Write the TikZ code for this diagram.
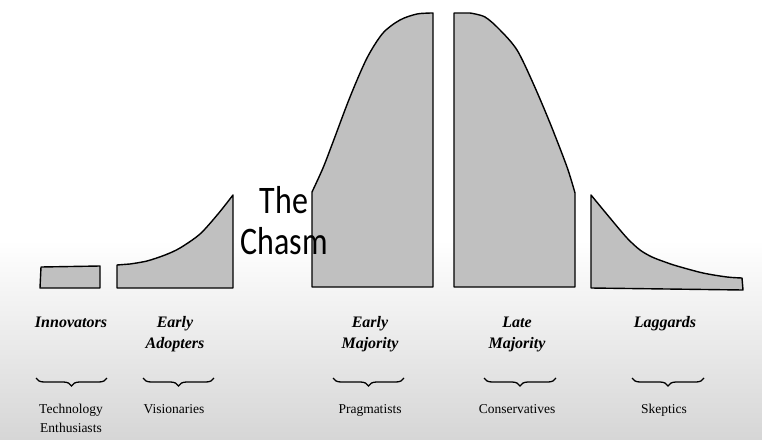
\documentclass[tikz,border=0pt]{standalone}
\usepackage{fontspec}
\setmainfont{Liberation Serif}
\newfontfamily\chasmfont{Carlito}
\usetikzlibrary{decorations.pathreplacing}
\definecolor{shapefill}{HTML}{C0C0C0}
\definecolor{bgbottom}{HTML}{D6D6D6}
\begin{document}
\begin{tikzpicture}[x=1pt,y=-1pt,
  seg/.style={draw=black, line width=1.4pt, fill=shapefill, line join=round},
  grp/.style={font=\fontsize{16}{18}\selectfont\bfseries\itshape, anchor=base, inner sep=0pt},
  sub/.style={font=\fontsize{13.5}{15}\selectfont, anchor=base, inner sep=0pt},
  brc/.style={decorate, decoration={brace, mirror, amplitude=8pt}, line width=1.3pt}]
\useasboundingbox (0,0) rectangle (762,439);
% background
\fill[white] (0,0) rectangle (762,439);
\shade[top color=white, bottom color=bgbottom] (0,240) rectangle (762,439);
% segments of the curve
\path[seg] (40,288) -- (41,267) -- (100,266) -- (100,288) -- cycle;
\path[seg] (117,288) -- (117,265) -- (130,264)
  -- plot[smooth] coordinates {(130,264) (147,261) (165,255) (180,248) (200,234) (218,214) (233,195)}
  -- (233,288) -- cycle;
\path[seg] (312,287) -- (312,192)
  -- plot[smooth] coordinates {(312,192) (323,168) (333,142) (350,97) (367,58) (383,33) (400,20) (417,14) (433,13)}
  -- (433,287) -- cycle;
\path[seg] (454,287) -- (454,13) -- (470,13)
  -- plot[smooth] coordinates {(470,13) (485,17) (500,30) (517,50) (533,83) (550,123) (567,167) (575,193)}
  -- (575,287) -- cycle;
\path[seg] (591,288) -- (591,195)
  -- plot[smooth] coordinates {(591,195) (610,218) (627,238) (640,250) (652,257) (665,262) (677,266) (703,273) (727,277) (742,278)}
  -- (743,290) -- cycle;
% The Chasm
\node[font=\chasmfont\fontsize{39}{40}\selectfont, anchor=base, inner sep=0pt, xscale=0.82, transform shape] (the) at (284,213) {The};
\node[font=\chasmfont\fontsize{39}{40}\selectfont, anchor=base, inner sep=0pt, xscale=0.82, transform shape] (chasm) at (284,254) {Chasm};
% group names
\node[grp] (inn) at (71,327) {Innovators};
\node[grp] (ea1) at (175,327) {Early};
\node[grp] (ea2) at (175,348) {Adopters};
\node[grp] (em1) at (370,327) {Early};
\node[grp] (em2) at (370,348) {Majority};
\node[grp] (lm1) at (517,327) {Late};
\node[grp] (lm2) at (517,348) {Majority};
\node[grp] (lag) at (665,327) {Laggards};
% braces
\coordinate (b1l) at (36,378); \coordinate (b1r) at (107,378);
\coordinate (b2l) at (143,378); \coordinate (b2r) at (214,378);
\coordinate (b3l) at (333,378); \coordinate (b3r) at (404,378);
\coordinate (b4l) at (484,378); \coordinate (b4r) at (556,378);
\coordinate (b5l) at (632,378); \coordinate (b5r) at (704,378);
\draw[brc] (b1l) -- (b1r);
\draw[brc] (b2l) -- (b2r);
\draw[brc] (b3l) -- (b3r);
\draw[brc] (b4l) -- (b4r);
\draw[brc] (b5l) -- (b5r);
% descriptions
\node[sub] (te1) at (71,413) {Technology};
\node[sub] (te2) at (71,432) {Enthusiasts};
\node[sub] (vis) at (174,413) {Visionaries};
\node[sub] (pra) at (370,413) {Pragmatists};
\node[sub] (con) at (517,413) {Conservatives};
\node[sub] (ske) at (664,413) {Skeptics};
\end{tikzpicture}
\end{document}
